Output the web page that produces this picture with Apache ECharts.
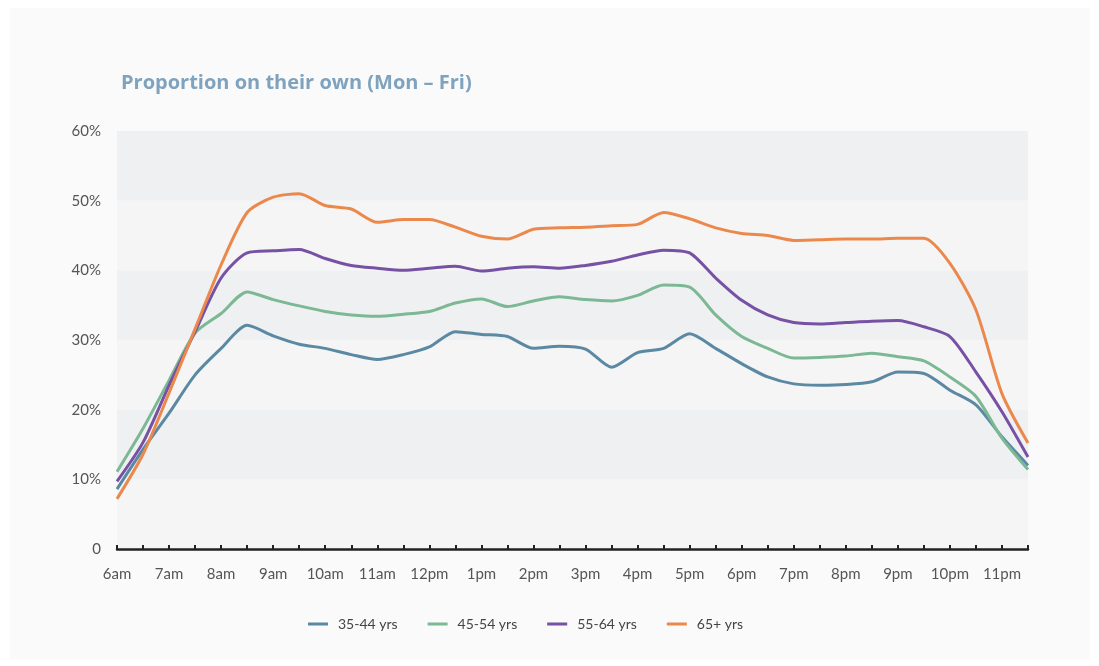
<!DOCTYPE html>
<html>
<head>
<meta charset="utf-8">
<script src="https://cdn.jsdelivr.net/npm/echarts@6/dist/echarts.min.js"></script>
<style>
  html, body { margin: 0; padding: 0; background: #ffffff; }
  #chart { width: 1099px; height: 666px; }
</style>
</head>
<body>
<div id="chart"></div>
<script>
// 时间点（小时，每半小时一个）
var hours = [6, 6.5, 7, 7.5, 8, 8.5, 9, 9.5, 10, 10.5, 11, 11.5, 12, 12.5, 13, 13.5, 14, 14.5,
             15, 15.5, 16, 16.5, 17, 17.5, 18, 18.5, 19, 19.5, 20, 20.5, 21, 21.5, 22, 22.5, 23, 23.5];

var seriesNames = ['35-44 yrs', '45-54 yrs', '55-64 yrs', '65+ yrs'];

var age35 = [8.6, 14.3, 19.5, 25.0, 28.8, 32.1, 30.6, 29.4, 28.8, 27.9, 27.2, 27.9, 29.0, 31.2, 30.8, 30.5, 28.8, 29.1,
             28.7, 26.1, 28.2, 28.8, 30.9, 28.8, 26.6, 24.7, 23.7, 23.5, 23.6, 24.0, 25.4, 25.2, 22.8, 20.7, 16.1, 12.0];
var age45 = [11.1, 17.3, 24.2, 31.0, 33.8, 36.9, 35.8, 34.9, 34.1, 33.6, 33.4, 33.7, 34.1, 35.3, 35.9, 34.8, 35.6, 36.2,
             35.8, 35.6, 36.4, 37.9, 37.6, 33.6, 30.5, 28.8, 27.4, 27.5, 27.7, 28.1, 27.6, 27.0, 24.7, 21.9, 15.9, 11.4];
var age55 = [9.7, 15.3, 23.5, 31.2, 38.9, 42.5, 42.8, 43.0, 41.7, 40.7, 40.3, 40.0, 40.3, 40.6, 39.9, 40.3, 40.5, 40.3,
             40.7, 41.3, 42.2, 42.9, 42.5, 38.9, 35.7, 33.6, 32.5, 32.3, 32.5, 32.7, 32.8, 31.9, 30.5, 25.4, 19.7, 13.2];
var age65 = [7.2, 13.6, 22.4, 31.6, 40.8, 48.3, 50.5, 51.0, 49.3, 48.8, 46.9, 47.3, 47.3, 46.2, 44.9, 44.5, 45.9, 46.1,
             46.2, 46.4, 46.6, 48.3, 47.4, 46.1, 45.3, 45.0, 44.3, 44.4, 44.5, 44.5, 44.6, 44.6, 41.0, 34.3, 22.3, 15.2];

var yTicks = [0, 10, 20, 30, 40, 50, 60];

var colors = ['#5b89a3', '#7bb893', '#7651a4', '#eb894d'];

function pairs(vals) {
    var out = [];
    for (var i = 0; i < hours.length; i++) out.push([hours[i], vals[i]]);
    return out;
}

function hourLabel(v) {
    if (v % 1 !== 0) return '';
    if (v < 12) return v + 'am';
    if (v === 12) return '12pm';
    return (v - 12) + 'pm';
}

var myChart = echarts.init(document.getElementById('chart'));
var fontFam = 'Lato, "Open Sans", sans-serif';

var allData = [age35, age45, age55, age65];
var series = [];
for (var s = 0; s < allData.length; s++) {
    series.push({
        name: seriesNames[s],
        type: 'line',
        data: pairs(allData[s]),
        smooth: 0.25,
        showSymbol: false,
        lineStyle: { width: 3, color: colors[s] },
        itemStyle: { color: colors[s] },
        z: 3 + s
    });
}

myChart.setOption({
    animation: false,
    backgroundColor: '#ffffff',
    graphic: [{
        type: 'rect',
        left: 10, top: 8,
        shape: { width: 1080, height: 651 },
        style: { fill: '#fafafa' },
        z: -10
    }],
    title: {
        text: 'Proportion on their own (Mon – Fri)',
        left: 116, top: 68,
        textStyle: { color: '#7fa3be', fontSize: 20, fontWeight: 'bold', fontFamily: '"Open Sans", Lato, sans-serif' }
    },
    legend: {
        data: seriesNames,
        left: 308, top: 617,
        padding: 0,
        icon: 'rect',
        itemWidth: 20, itemHeight: 3,
        itemGap: 30,
        textStyle: { color: '#444', fontSize: 14, fontFamily: fontFam, padding: [0, 0, 0, 5] }
    },
    grid: { left: 117, right: 71, top: 131, bottom: 117, containLabel: false },
    xAxis: {
        type: 'value',
        min: 6, max: 23.5, interval: 0.5,
        axisLine: { show: true, lineStyle: { color: '#222', width: 2.5 } },
        axisTick: { show: true, inside: true, length: 4, lineStyle: { color: '#222', width: 2 } },
        axisLabel: { formatter: hourLabel, color: '#555', fontSize: 15, margin: 18, fontFamily: fontFam, showMinLabel: true, showMaxLabel: true },
        splitLine: { show: false }
    },
    yAxis: {
        type: 'value',
        min: yTicks[0], max: yTicks[yTicks.length - 1], interval: 10,
        axisLine: { show: false },
        axisTick: { show: false },
        axisLabel: {
            formatter: function (v) { return v === 0 ? '0' : v + '%'; },
            color: '#555', fontSize: 15, margin: 16, fontFamily: fontFam
        },
        splitLine: { show: false },
        splitArea: { show: true, areaStyle: { color: ['#f5f5f5', '#eff0f2'] } }
    },
    series: series
});
</script>
</body>
</html>
